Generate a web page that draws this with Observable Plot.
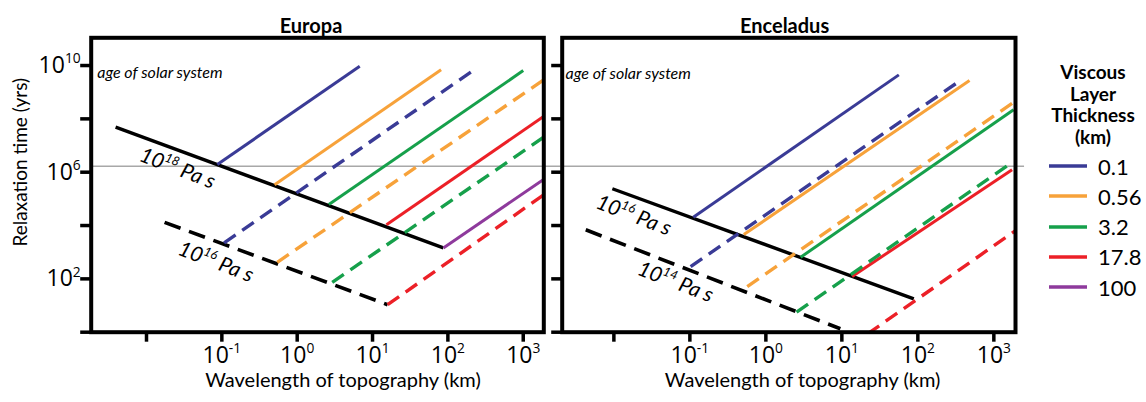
<!DOCTYPE html>
<html>
<head>
<meta charset="utf-8">
<script src="https://cdn.jsdelivr.net/npm/d3@7"></script>
<script src="https://cdn.jsdelivr.net/npm/@observablehq/plot@0.6"></script>
<style>
  body { margin: 0; background: white; font-family: Lato, sans-serif; }
  #wrap { position: relative; width: 1146px; height: 402px; overflow: hidden; }
  #wrap svg { position: absolute; left: 0; top: 0; }
  .legend-title { position: absolute; left: 1033px; width: 120px; top: 61px; text-align: center;
    font: bold 19px/21.5px Lato, sans-serif; }
  .legend-row { position: absolute; left: 1049px; height: 30px; display: flex; align-items: center; }
  .legend-row span { font: 22px Lato, sans-serif; margin-left: 11px; }
</style>
</head>
<body>
<div id="wrap"></div>
<script>
// ---------- data ----------
const layers = ["0.1", "0.56", "3.2", "17.8", "100"];              // viscous layer thickness (km)
const layerColors = ["#3a3b96", "#f7a23a", "#16a04b", "#ec2027", "#8e3a9c"];

const tickX = [0.01, 0.1, 1, 10, 100, 1000];
const tickXLabels = ["", "10^-1", "10^0", "10^1", "10^2", "10^3"];
const tickY = [1, 1e2, 1e4, 1e6, 1e8, 1e10];
const tickYLabels = ["", "10^2", "", "10^6", "", "10^10"];

// Europa: each segment -> [log10 wavelength start, end], [log10 time start, end]
const europaGroup = ["η", "η", "0.1", "0.1", "0.56", "0.56", "3.2", "3.2", "17.8", "17.8", "100"];
const europaDashed = [0, 1, 0, 1, 0, 1, 0, 1, 0, 1, 0];
const europaLogLambda = [[-2.41, 1.94], [-1.76, 1.20], [-1.06, 0.83], [-0.97, 2.35], [-0.30, 1.91], [-0.265, 3.27],
  [0.42, 3.00], [0.465, 3.27], [1.185, 3.27], [1.20, 3.27], [1.94, 3.27]];
const europaLogTau = [[7.69, 3.16], [4.12, 1.03], [6.29, 9.97], [3.35, 9.84], [5.53, 9.84], [2.62, 9.46],
  [4.79, 9.81], [1.87, 7.31], [4.03, 8.09], [1.03, 5.15], [3.16, 5.73]];
const europaViscLabels = ["10^18 Pa s", "10^16 Pa s"];
const europaViscLogLambda = [-1.59, -1.08];
const europaViscLogTau = [6.14, 2.63];

// Enceladus
const enceladusGroup = ["η", "η", "0.1", "0.1", "0.56", "0.56", "3.2", "3.2", "17.8", "17.8"];
const enceladusDashed = [0, 1, 0, 1, 0, 1, 0, 1, 0, 1];
const enceladusLogLambda = [[-2.02, 1.947], [-2.37, 0.98], [-0.955, 1.75], [-0.99, 2.56], [-0.29, 2.68], [-0.245, 3.26],
  [0.457, 3.26], [0.404, 3.21], [1.135, 3.24], [1.34, 3.285]];
const enceladusLogTau = [[5.38, 1.25], [3.84, 0.13], [4.31, 9.65], [2.46, 9.44], [3.66, 9.44], [1.71, 8.62],
  [2.81, 8.34], [0.75, 6.31], [2.09, 6.09], [-0.06, 3.81]];
const enceladusViscLabels = ["10^16 Pa s", "10^14 Pa s"];
const enceladusViscLogLambda = [-1.74, -1.19];
const enceladusViscLogTau = [4.375, 1.875];

const grayLogTau = 6.224;

// ---------- helpers ----------
const xLabel = new Map(tickX.map((t, i) => [t, tickXLabels[i]]));
const yLabel = new Map(tickY.map((t, i) => [t, tickYLabels[i]]));

function rows(group, dashed, lam, tau) {
  return group.map((g, i) => ({g, dashed: !!dashed[i],
    x1: 10 ** lam[i][0], x2: 10 ** lam[i][1], y1: 10 ** tau[i][0], y2: 10 ** tau[i][1]}));
}
function labels(text, lam, tau) {
  return text.map((t, i) => ({t, x: 10 ** lam[i], y: 10 ** tau[i]}));
}

const W = 1146, H = 402, TOP = 37.3, BOTTOM = 402 - 331.7;

function panel(o) {
  const data = rows(o.group, o.dashed, o.lam, o.tau);
  const link = {x1: "x1", y1: "y1", x2: "x2", y2: "y2", stroke: "g", clip: true};
  return Plot.plot({
    width: W, height: H,
    marginLeft: o.left, marginRight: W - o.right, marginTop: TOP, marginBottom: BOTTOM,
    x: {type: "log", domain: [10 ** o.xd[0], 10 ** o.xd[1]]},
    y: {type: "log", domain: [1, 10 ** 11.04]},
    color: {domain: [...layers, "η"], range: [...layerColors, "#000000"]},
    style: {fontFamily: "Lato, sans-serif", fontSize: "23px", background: "transparent", overflow: "visible", color: "black"},
    marks: [
      Plot.ruleY([10 ** grayLogTau], {y: d => d, x1: () => 10 ** o.gray[0], x2: () => 10 ** o.gray[1],
        stroke: "#a8a8a8", strokeWidth: 1.3}),
      Plot.link(data.filter(d => d.g === "η" && !d.dashed), {...link, strokeWidth: 3.4}),
      Plot.link(data.filter(d => d.g === "η" && d.dashed), {...link, strokeWidth: 3.6, strokeDasharray: "17,9"}),
      Plot.link(data.filter(d => d.g !== "η" && !d.dashed), {...link, strokeWidth: 3}),
      Plot.link(data.filter(d => d.g !== "η" && d.dashed), {...link, strokeWidth: 3.4, strokeDasharray: "14,8"}),
      Plot.frame({stroke: "black", strokeWidth: 4}),
      Plot.axisX({ticks: tickX, tickFormat: d => xLabel.get(d) ?? "", tickSize: 10, tickPadding: 4,
        strokeWidth: 3.5, label: null}),
      Plot.axisY({ticks: tickY, tickFormat: d => o.yLabels ? (yLabel.get(d) ?? "") : "", tickSize: 10.5,
        tickPadding: 0, strokeWidth: 3.5, label: null}),
      Plot.text([o.title], {x: () => 10 ** o.titleX, frameAnchor: "top", dy: 18 - TOP, fontWeight: "bold",
        fontSize: 20, text: d => d}),
      Plot.text(["Wavelength of topography (km)"], {x: () => 10 ** o.xTitleX, frameAnchor: "bottom",
        dy: 386 - 331.7, fontSize: 20, text: d => d}),
      Plot.text(["age of solar system"], {x: () => 10 ** o.age[0], y: () => 10 ** o.age[1], textAnchor: "start",
        fontStyle: "italic", fontSize: 16, text: d => d}),
      Plot.text(o.visc, {x: "x", y: "y", text: "t", rotate: 21, fontStyle: "italic", fontSize: 21}),
      ...(o.yTitle ? [Plot.text([o.yTitle], {y: () => 10 ** 6.374, frameAnchor: "left", dx: 20 - o.left,
        rotate: -90, textAnchor: "middle", fontSize: 19, text: d => d})] : [])
    ]
  });
}

function supify(svg) {
  svg.querySelectorAll("text").forEach(t => {
    const s = t.textContent;
    const m = s.match(/^(.*?)\^(\S+)(.*)$/);
    if (!m) return;
    while (t.firstChild) t.removeChild(t.firstChild);
    const ns = "http://www.w3.org/2000/svg";
    const a = document.createElementNS(ns, "tspan"); a.textContent = m[1]; t.appendChild(a);
    const b = document.createElementNS(ns, "tspan"); b.textContent = m[2];
    b.setAttribute("font-size", "0.6em"); b.setAttribute("dy", "-0.7em"); t.appendChild(b);
    if (m[3]) {
      const c = document.createElementNS(ns, "tspan"); c.textContent = m[3].replace(/^ /, "\u00a0");
      c.setAttribute("dy", "0.42em"); t.appendChild(c);
    } else {
      // tick label: wider digits as in the reference
      t.style.fontFamily = "'Open Sans', sans-serif";
      t.style.fontSize = "23px";
    }
  });
}

const wrap = document.getElementById("wrap");

const europa = panel({
  group: europaGroup, dashed: europaDashed, lam: europaLogLambda, tau: europaLogTau,
  left: 90.7, right: 543.3, xd: [-2.734, 3.273], yLabels: true, yTitle: "Relaxation time (yrs)",
  title: "Europa", titleX: 0.183, xTitleX: 0.608, age: [-2.654, 9.71], gray: [-2.734, 3.5],
  visc: labels(europaViscLabels, europaViscLogLambda, europaViscLogTau)
});
const enceladus = panel({
  group: enceladusGroup, dashed: enceladusDashed, lam: enceladusLogLambda, tau: enceladusLogTau,
  left: 561.7, right: 1015, xd: [-2.68, 3.285], yLabels: false, yTitle: null,
  title: "Enceladus", titleX: 0.246, xTitleX: 0.483, age: [-2.636, 9.69], gray: [-2.68, 3.404],
  visc: labels(enceladusViscLabels, enceladusViscLogLambda, enceladusViscLogTau)
});
supify(europa); supify(enceladus);
wrap.appendChild(europa);
wrap.appendChild(enceladus);

// ---------- legend ----------
const lt = document.createElement("div");
lt.className = "legend-title";
lt.innerHTML = "Viscous<br>Layer<br>Thickness<br>(km)";
wrap.appendChild(lt);
layers.forEach((l, i) => {
  const row = document.createElement("div");
  row.className = "legend-row";
  row.style.top = (151 + i * 30.3) + "px";
  row.innerHTML = `<svg width="38" height="6" style="position:static"><line x1="0" x2="38" y1="3" y2="3" stroke="${layerColors[i]}" stroke-width="3.5"/></svg><span>${l}</span>`;
  wrap.appendChild(row);
});
</script>
</body>
</html>
